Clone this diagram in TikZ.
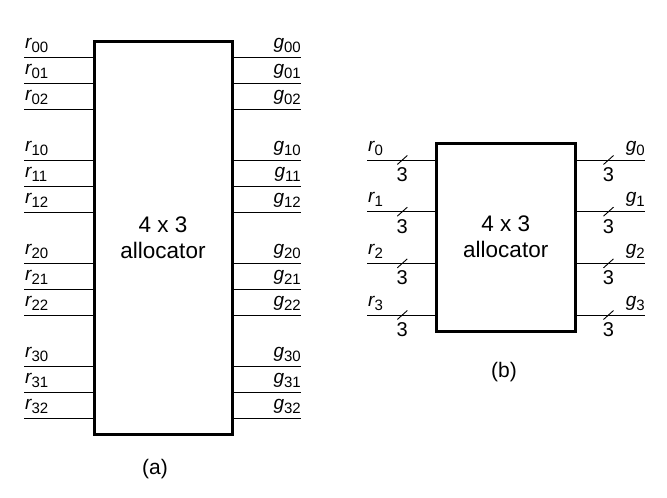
\documentclass[tikz,border=0pt]{standalone}
\usepackage{fontspec}
\setmainfont{Liberation Sans}
\newcommand\sublab[2]{{\fontsize{19}{19}\selectfont\itshape #1}{\fontsize{15}{15}\selectfont\raisebox{-4pt}{#2}}}
\tikzset{
  box/.style={draw, line width=3pt, inner sep=0pt, align=center,
    font=\fontsize{22.5}{26}\selectfont},
  wire/.style={line width=1pt},
  slash/.style={line width=0.9pt},
  lbl/.style={inner sep=0pt},
  cnt/.style={inner sep=0pt, font=\fontsize{20}{20}\selectfont},
  captext/.style={inner sep=0pt, font=\fontsize{21}{21}\selectfont}
}
\begin{document}
\begin{tikzpicture}[x=1pt,y=-1pt]
\useasboundingbox (0,0) rectangle (667,498);
% (a)
\node[box, minimum width=138pt, minimum height=393pt] (A) at (163,237.5) {4 x 3\\allocator};
\foreach \i in {0,1,2,3}{
  \foreach \j in {0,1,2}{
    \pgfmathsetmacro\yy{57+\i*103+\j*26}
    \coordinate (la\i\j) at (24,\yy);
    \coordinate (ra\i\j) at (301,\yy);
    \draw[wire] (la\i\j) -- (la\i\j -| A.west);
    \draw[wire] (ra\i\j -| A.east) -- (ra\i\j);
    \node[lbl, anchor=base west] (rl\i\j) at ([shift={(1,-8.5)}]la\i\j) {\sublab{r}{\i\j}};
    \node[lbl, anchor=base east] (gl\i\j) at ([shift={(0,-8.5)}]ra\i\j) {\sublab{g}{\i\j}};
  }
}
\node[captext] (capa) at (155,469) {(a)};
% (b)
\node[box, minimum width=138.5pt, minimum height=187.5pt] (B) at (505.75,237.25) {4 x 3\\allocator};
\foreach \i in {0,1,2,3}{
  \pgfmathsetmacro\yy{160+\i*51.67}
  \coordinate (lb\i) at (367,\yy);
  \coordinate (rb\i) at (645,\yy);
  \coordinate (sl\i) at (402.3,\yy);
  \coordinate (sr\i) at (608.5,\yy);
  \draw[wire] (lb\i) -- (lb\i -| B.west);
  \draw[wire] (rb\i -| B.east) -- (rb\i);
  \draw[slash] ([shift={(-5,4.5)}]sl\i) -- ([shift={(5,-4.5)}]sl\i);
  \draw[slash] ([shift={(-5,4.5)}]sr\i) -- ([shift={(5,-4.5)}]sr\i);
  \node[cnt] (nl\i) at ([shift={(0,14.5)}]sl\i) {3};
  \node[cnt] (nr\i) at ([shift={(0,14.5)}]sr\i) {3};
  \node[lbl, anchor=base west] (rlb\i) at ([shift={(1,-9)}]lb\i) {\sublab{r}{\i}};
  \node[lbl, anchor=base east] (glb\i) at ([shift={(0,-9)}]rb\i) {\sublab{g}{\i}};
}
\node[captext] (capb) at (504,372) {(b)};
\end{tikzpicture}
\end{document}
